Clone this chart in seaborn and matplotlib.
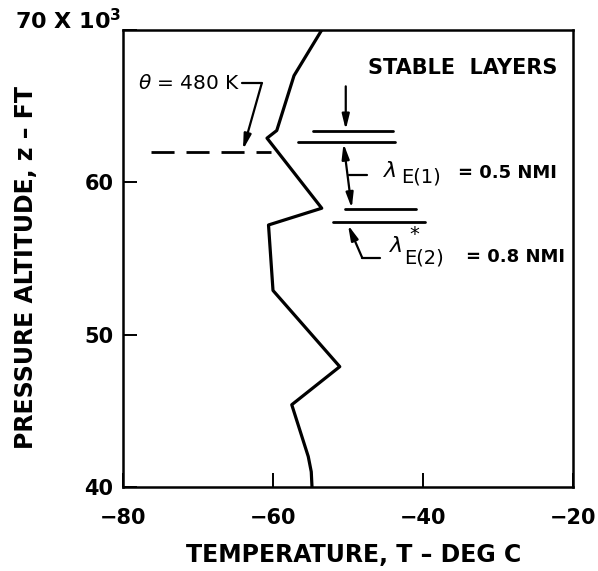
import matplotlib
matplotlib.use("Agg")
import matplotlib.pyplot as plt
import seaborn as sns
import pandas as pd

# Temperature sounding: temperature (deg C) at pressure altitude (thousands of ft)
temperature = [-54.8, -54.9, -55.3, -57.5, -51.1, -60.0, -60.6, -53.5, -60.8, -59.5, -57.2, -53.5]
altitude = [40.0, 41.0, 42.0, 45.4, 47.9, 52.9, 57.2, 58.3, 62.9, 63.4, 67.0, 70.0]

x_ticks = [-80, -60, -40, -20]
x_tick_labels = ["\u221280", "\u221260", "\u221240", "\u221220"]
y_ticks = [40, 50, 60, 70]
y_tick_labels = ["40", "50", "60", ""]

# Potential-temperature surface
theta_alt = 62.0
theta_span = [-76.3, -60.3]

# Stable layer boundaries: (altitude, T start, T end)
layer_lines = [
    (63.4, -54.7, -44.0),
    (62.63, -56.7, -43.7),
    (58.25, -50.4, -41.0),
    (57.38, -52.0, -39.7),
]

sns.set_style("white")
plt.rcParams["font.family"] = ["DejaVu Sans"]
plt.rcParams["mathtext.fontset"] = "dejavusans"
plt.rcParams["text.color"] = "black"
plt.rcParams["axes.labelcolor"] = "black"

df = pd.DataFrame({"T": temperature, "z": altitude})

fig = plt.figure(figsize=(5.98, 5.71), dpi=100)
ax = fig.add_axes([0.2057, 0.1471, 0.7525, 0.8004])

sns.lineplot(data=df, x="T", y="z", sort=False, estimator=None,
             color="black", linewidth=2.3, ax=ax)

ax.set_xlim(-80, -20)
ax.set_ylim(40, 70)
ax.set_xticks(x_ticks)
ax.set_xticklabels(x_tick_labels)
ax.set_yticks(y_ticks)
ax.set_yticklabels(y_tick_labels)
ax.tick_params(bottom=True, left=True, top=False, right=False,
               direction="in", length=10, width=1.4, colors="black",
               labelsize=15)
ax.tick_params(axis="x", pad=15)
ax.tick_params(axis="y", pad=7)
for lbl in ax.get_xticklabels() + ax.get_yticklabels():
    lbl.set_fontweight("bold")

for side in ["left", "right", "top", "bottom"]:
    ax.spines[side].set_visible(True)
    ax.spines[side].set_color("black")
    ax.spines[side].set_linewidth(1.8)

ax.set_xlabel("TEMPERATURE, T \u2013 DEG C", fontsize=17, fontweight="bold")
ax.set_ylabel("PRESSURE ALTITUDE, z \u2013 FT", fontsize=17, fontweight="bold")
ax.xaxis.set_label_coords(0.512, -0.122)
ax.yaxis.set_label_coords(-0.19, 0.481)

fig.text(15 / 598, 1 - 21 / 571, "70 X 10$^{\\mathbf{3}}$", fontsize=16,
         fontweight="bold", ha="left", va="center")

# theta = 480 K surface
ax.plot(theta_span, [theta_alt, theta_alt], color="black", linewidth=2.0,
        linestyle=(0, (8.3, 4.3)))
ax.text(-64.3, 66.5, "$\\theta$ = 480 K", fontsize=14.5, ha="right", va="center")
ax.plot([-64.1, -61.5], [66.5, 66.5], color="black", linewidth=1.6)
ax.annotate("", xy=(-64.0, 62.15), xytext=(-61.5, 66.5),
            arrowprops=dict(arrowstyle="-|>,head_length=0.9,head_width=0.22",
                            color="black", lw=1.6, shrinkA=0, shrinkB=0))

# Stable layers
ax.text(-47.4, 67.5, "STABLE  LAYERS", fontsize=15, fontweight="bold",
        ha="left", va="center")
for z, t0, t1 in layer_lines:
    ax.plot([t0, t1], [z, z], color="black", linewidth=2.0)

arrow_kw = dict(color="black", lw=1.6, shrinkA=0, shrinkB=0)
ax.annotate("", xy=(-50.3, 63.45), xytext=(-50.3, 66.3),
            arrowprops=dict(arrowstyle="-|>,head_length=0.9,head_width=0.22", **arrow_kw))
ax.annotate("", xy=(-50.6, 62.55), xytext=(-49.5, 58.3),
            arrowprops=dict(arrowstyle="<|-|>,head_length=0.9,head_width=0.22", **arrow_kw))
ax.plot([-49.9, -47.5], [60.49, 60.49], color="black", linewidth=1.6)
ax.text(-45.4, 60.75, "$\\lambda$", fontsize=16, ha="left", va="center")
ax.text(-42.9, 60.35, "E(1)", fontsize=14, ha="left", va="center")
ax.text(-35.4, 60.6, "= 0.5 NMI", fontsize=13, fontweight="bold",
        ha="left", va="center")

ax.annotate("", xy=(-50.0, 57.2), xytext=(-48.1, 55.04),
            arrowprops=dict(arrowstyle="-|>,head_length=0.9,head_width=0.22", **arrow_kw))
ax.plot([-48.1, -45.7], [55.04, 55.04], color="black", linewidth=1.6)
ax.text(-44.5, 55.8, "$\\lambda$", fontsize=16, ha="left", va="center")
ax.text(-41.8, 56.6, "*", fontsize=14, ha="left", va="center")
ax.text(-42.5, 55.05, "E(2)", fontsize=14, ha="left", va="center")
ax.text(-34.3, 55.1, "= 0.8 NMI", fontsize=13, fontweight="bold",
        ha="left", va="center")

fig.savefig("out.png", dpi=100, facecolor="white")
